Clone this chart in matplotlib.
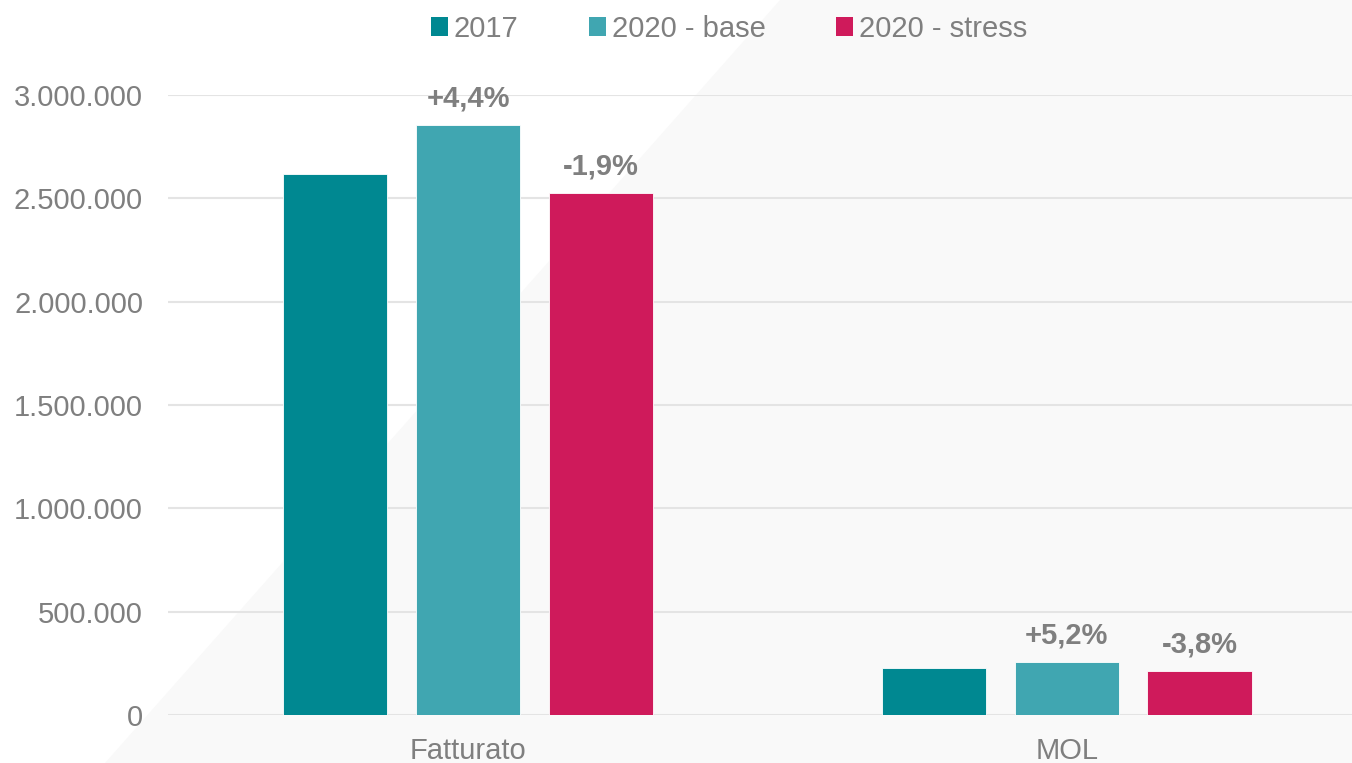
import matplotlib
matplotlib.use("Agg")
import matplotlib.pyplot as plt
from matplotlib.patches import Patch, Polygon
import numpy as np

categories = ["Fatturato", "MOL"]
series_names = ["2017", "2020 - base", "2020 - stress"]
v2017 = [2618000, 229000]
v2020_base = [2855000, 255000]
v2020_stress = [2526000, 213000]
labels_base = ["+4,4%", "+5,2%"]
labels_stress = ["-1,9%", "-3,8%"]
yticks = [0, 500000, 1000000, 1500000, 2000000, 2500000, 3000000]
ytick_labels = ["0", "500.000", "1.000.000", "1.500.000", "2.000.000", "2.500.000", "3.000.000"]

colors = ["#008891", "#40a6b1", "#cf1a5b"]
grey = "#7f7f7f"

plt.rcParams['font.family'] = ['Liberation Sans', 'DejaVu Sans']

W, H = 1352, 763
fig = plt.figure(figsize=(W/100, H/100), dpi=100)
fig.patch.set_facecolor("white")

# background diagonal light panel
pts = [(780, 0), (W, 0), (W, H), (105, H)]
poly = Polygon([(x/W, 1 - y/H) for x, y in pts], closed=True, transform=fig.transFigure,
               facecolor="#f9f9f9", edgecolor="none", zorder=-10)
fig.patches.append(poly)

ax = fig.add_axes([168/W, (H-715)/H, (W-168)/W, (715-95)/H])
ax.set_facecolor("none")
ax.set_zorder(1)

x = np.arange(len(categories))
bw = 0.175
step = 0.222
series = [v2017, v2020_base, v2020_stress]
for i, (vals, c, name) in enumerate(zip(series, colors, series_names)):
    ax.bar(x + (i-1)*step, vals, width=bw, color=c, label=name, zorder=3,
           edgecolor="white", linewidth=0.6)

fs = 21
for xi, v, t in zip(x, v2020_base, labels_base):
    ax.annotate(t, (xi, v), xytext=(0, 19), textcoords="offset points",
                ha="center", va="center", fontsize=fs, fontweight="bold", color=grey,
                annotation_clip=False)
for xi, v, t in zip(x, v2020_stress, labels_stress):
    ax.annotate(t, (xi + step, v), xytext=(0, 19), textcoords="offset points",
                ha="center", va="center", fontsize=fs, fontweight="bold", color=grey,
                annotation_clip=False)

ax.set_xlim(-0.501, 1.476)
ax.set_ylim(0, 3000000)
ax.set_yticks(yticks)
ax.set_yticklabels(ytick_labels)
ax.set_xticks(x)
ax.set_xticklabels(categories)
ax.tick_params(axis="y", length=0, pad=18, labelsize=fs, labelcolor=grey)
ax.tick_params(axis="x", length=0, pad=16, labelsize=fs, labelcolor=grey)
for s in ax.spines.values():
    s.set_visible(False)
ax.grid(axis="y", color="#e4e4e4", linewidth=1.5, zorder=1)
ax.set_axisbelow(True)

handles = [Patch(facecolor=c, edgecolor="none") for c in colors]
leg = fig.legend(handles, series_names, loc="center", bbox_to_anchor=(729/W, 1 - 29/H),
                 ncol=3, frameon=False, fontsize=fs, handlelength=0.6, handleheight=0.6,
                 handletextpad=0.2, columnspacing=2.4)
for t in leg.get_texts():
    t.set_color(grey)

fig.savefig("out.png", dpi=100, facecolor=fig.get_facecolor())
